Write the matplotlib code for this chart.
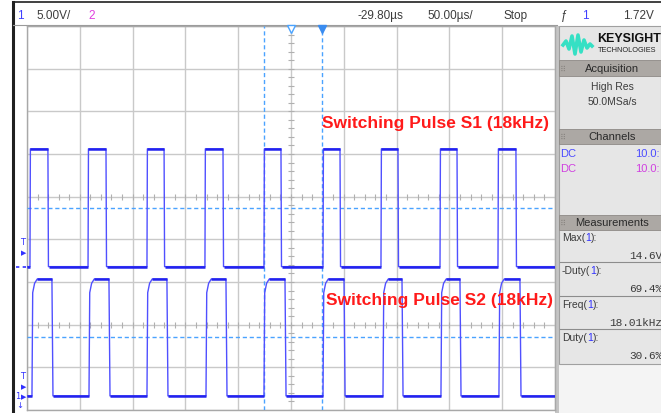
import matplotlib
matplotlib.use("Agg")
import matplotlib.pyplot as plt
from matplotlib.patches import Rectangle
from matplotlib.transforms import blended_transform_factory

# --- scope settings ---
volts_per_div = 5.0
time_per_div = 50.0          # us
delay_us = -29.80            # screen centre time
trigger_level = 1.72         # V

# channel ground offsets in divisions from the bottom of the graticule
s1_offset = 3.36
s2_offset = 0.33

# pulse edges (us, relative to trigger) and levels (V)
s1_rise = [-277.0, -222.0, -166.2, -111.3, -55.4, 0.5, 55.4, 111.3, 166.2]
s1_fall = [-260.0, -205.0, -150.0, -94.2, -39.3, 16.6, 71.5, 127.4, 183.2]
s1_low, s1_high = 0.0, 13.8

s2_rise = [-275.1, -221.1, -166.2, -110.3, -55.4, 0.5, 57.3, 112.2, 167.1]
s2_fall = [-256.2, -202.2, -147.3, -91.4, -35.5, 20.4, 75.3, 130.2, 187.0]
s2_low, s2_high = 0.0, 13.7

# measurement threshold levels (V) and cursor times (us)
s1_thresh = 6.9
s2_thresh = 6.85
cursor_times = [-55.4, 0.0]

measurements = [("Max", "14.6V"), ("-Duty", "69.4%"), ("Freq", "18.01kHz"), ("Duty", "30.6%")]

TRACE = "#5050ff"
TRACE_DARK = "#2222ee"
CURSOR = "#4aa3ff"
GRID = "#c9c9c9"
TXT = "#3c3c3c"

W, H = 661, 414
fig = plt.figure(figsize=(W / 100, H / 100), dpi=100)

# background axes in pixel units for the instrument frame / side panel
bg = fig.add_axes([0, 0, 1, 1], zorder=0)
bg.set_xlim(0, W)
bg.set_ylim(H, 0)
bg.axis("off")

bg.plot([13, W], [3, 3], color="#202020", lw=1.2)
bg.plot([13, 13], [3, H], color="#202020", lw=2.2)
bg.plot([13, 557], [25.5, 25.5], color="#9a9a9a", lw=0.8)

hdr = dict(fontsize=8.5, family="Liberation Sans", va="center")
bg.text(17, 16, "1", color="#4040ff", **hdr)
bg.text(36, 16, "5.00V/", color=TXT, **hdr)
bg.text(88, 16, "2", color="#e040e0", **hdr)
bg.text(357, 16, "-29.80µs", color=TXT, **hdr)
bg.text(427, 16, "50.00µs/", color=TXT, **hdr)
bg.text(503, 16, "Stop", color=TXT, **hdr)
bg.text(561, 16, "ƒ", color=TXT, **hdr)
bg.text(582, 16, "1", color="#4040ff", **hdr)
bg.text(623, 16, "1.72V", color=TXT, **hdr)

# side panel
bg.add_patch(Rectangle((555, 27), W - 555, H - 27, facecolor="#f4f4f4", edgecolor="none"))
bg.add_patch(Rectangle((555, 27), 4, H - 27, facecolor="#c4c4c4", edgecolor="none"))
bg.add_patch(Rectangle((559, 27), W - 559, 338, facecolor="#e6e6e6", edgecolor="#a0a0a0", lw=0.8))

# Keysight logo
wave_x = [563, 566, 569, 572, 575, 578, 581, 584, 587, 590, 592]
wave_y = [46, 42, 50, 37, 55, 36, 53, 41, 49, 45, 47]
bg.plot(wave_x, wave_y, color="#35e0c4", lw=2.6, solid_joinstyle="round")
bg.text(597, 39, "KEYSIGHT", fontsize=9, weight="bold", family="Liberation Sans",
        color="#111111", va="center")
bg.text(598, 50.5, "TECHNOLOGIES", fontsize=5.3, family="Liberation Sans",
        color="#222222", va="center")

panel_txt = dict(fontsize=7.5, family="Liberation Sans", color=TXT, va="center")
for y0, y1, label in [(61, 77, "Acquisition"), (130, 145, "Channels"), (216, 231, "Measurements")]:
    bg.add_patch(Rectangle((559, y0), W - 559, y1 - y0, facecolor="#aca8a4", edgecolor="#8e8a86", lw=0.6))
    bg.text(612, (y0 + y1) / 2, label, ha="center", fontsize=8, family="Liberation Sans",
            color="#2a2a2a", va="center")
    bg.text(563, (y0 + y1) / 2, "⠿", fontsize=6, color="#8a8682", va="center", ha="center")

bg.text(612, 87, "High Res", ha="center", **panel_txt)
bg.text(612, 102, "50.0MSa/s", ha="center", **panel_txt)

bg.text(560, 154, "DC", fontsize=8, family="Liberation Sans", color="#4b4bff", va="center")
bg.text(635, 154, "10.0:", fontsize=8, family="Liberation Sans", color="#4b4bff", va="center")
bg.text(560, 169, "DC", fontsize=8, family="Liberation Sans", color="#d040e0", va="center")
bg.text(635, 169, "10.0:", fontsize=8, family="Liberation Sans", color="#d040e0", va="center")

renderer = fig.canvas.get_renderer()


def rich_text(x, y, parts, **kw):
    for s, c in parts:
        t = bg.text(x, y, s, color=c, **kw)
        x += t.get_window_extent(renderer).width


row_h = 33.5
for i, (name, value) in enumerate(measurements):
    y_lab = 238 + i * row_h
    rich_text(562, y_lab, [(name + "(", TXT), ("1", "#3030ff"), ("):", TXT)],
              fontsize=7.5, family="Liberation Sans", va="center")
    bg.text(W + 1, y_lab + 18, value, fontsize=8, family="Liberation Mono", color=TXT,
            va="center", ha="right")
    if i < len(measurements) - 1:
        bg.plot([560, W], [y_lab + 25, y_lab + 25], color="#8c8c8c", lw=0.8)

# --- scope graticule axes ---
left, right, top, bottom = 27, 555, 27, 411
ax = fig.add_axes([left / W, (H - bottom) / H, (right - left) / W, (bottom - top) / H], zorder=2)
ax.set_facecolor("white")
x0 = delay_us - 5 * time_per_div
x1 = delay_us + 5 * time_per_div
ax.set_xlim(x0, x1)
ax.set_ylim(0, 9)
ax.set_xticks([x0 + k * time_per_div for k in range(11)])
ax.set_yticks(range(10))
ax.grid(True, color=GRID, lw=1.0)
ax.tick_params(length=0, labelbottom=False, labelleft=False)
for sp in ax.spines.values():
    sp.set_color("#a8a8a8")
    sp.set_linewidth(1.0)
ax.set_axisbelow(True)

# minor ticks along the centre line and two tick rows
yt = [k * 0.2 for k in range(46)]
ax.plot([delay_us] * len(yt), yt, ls="none", marker="_", ms=4, mew=0.8, color="#b0b0b0")
xt = [x0 + k * time_per_div / 5 for k in range(51)]
for row in (2, 5):
    ax.plot(xt, [row] * len(xt), ls="none", marker="|", ms=4, mew=0.8, color="#b0b0b0")


def to_div(v, offset):
    return offset + v / volts_per_div


def pulse_trace(rise, fall, lo, hi, rounded):
    ts, vs = [x0], [lo]
    for r, f in zip(rise, fall):
        if rounded:
            ts += [r, r + 0.7, r + 2.5, r + 5.0, f, f + 1.0]
            vs += [lo, hi - 1.6, hi - 0.5, hi, hi, lo]
        else:
            ts += [r, r + 0.4, f, f + 0.5]
            vs += [lo, hi, hi, lo]
    ts.append(x1)
    vs.append(lo)
    return ts, vs


for rise, fall, lo, hi, off, rounded in [
    (s1_rise, s1_fall, s1_low, s1_high, s1_offset, False),
    (s2_rise, s2_fall, s2_low, s2_high, s2_offset, True),
]:
    ts, vs = pulse_trace(rise, fall, lo, hi, rounded)
    ax.plot(ts, [to_div(v, off) for v in vs], color=TRACE, lw=1.0, zorder=4)
    start = 5.0 if rounded else 0.4
    hi_starts = [r + start for r in rise]
    ax.hlines([to_div(hi, off)] * len(rise), hi_starts, fall, color=TRACE_DARK, lw=1.8, zorder=5)
    lows_a = [x0] + [f + 1.0 for f in fall]
    lows_b = list(rise) + [x1]
    ax.hlines([to_div(lo, off)] * len(lows_a), lows_a, lows_b, color=TRACE_DARK, lw=1.8, zorder=5)

# thresholds and cursors
ax.axhline(to_div(s1_thresh, s1_offset), color=CURSOR, lw=1.0, ls=(0, (3, 2)), zorder=3)
ax.axhline(to_div(s2_thresh, s2_offset), color=CURSOR, lw=1.0, ls=(0, (3, 2)), zorder=3)
for t in cursor_times:
    ax.axvline(t, color=CURSOR, lw=1.0, ls=(0, (3, 2)), zorder=3)

xa = blended_transform_factory(ax.transData, ax.transAxes)
ax.plot([delay_us], [0.992], transform=xa, marker="v", ms=6, mfc="white", mec=CURSOR,
        mew=1.0, clip_on=False, zorder=6)
ax.plot([0.0], [0.992], transform=xa, marker="v", ms=6, color="#3a8cf0", clip_on=False, zorder=6)

# left side channel / trigger markers
ya = blended_transform_factory(ax.transAxes, ax.transData)
mk = dict(transform=ya, clip_on=False, color="#3030ff", va="center", ha="center")
for lvl, off in [(trigger_level, s1_offset), (1.2, s2_offset)]:
    y = to_div(lvl, off)
    ax.text(-0.008, y + 0.25, "T", fontsize=6, **mk)
    ax.text(-0.006, y, "▶", fontsize=5, **mk)
ax.plot([-0.02, 0.0], [s1_offset, s1_offset], transform=ya, clip_on=False,
        color="#3030ff", lw=1.2, ls=(0, (2, 2)))
ax.text(-0.017, s2_offset, "1", fontsize=6, **mk)
ax.text(-0.006, s2_offset, "▶", fontsize=5, **mk)
ax.text(-0.014, s2_offset - 0.2, "↓", fontsize=6, **mk)

# annotations
lbl = dict(fontsize=12.5, weight="bold", family="Liberation Sans", color="#ff1a1a",
           va="center", ha="left", zorder=7)
ax.text(0.0, 6.73, "Switching Pulse S1 (18kHz)", **lbl)
ax.text(3.5, 2.60, "Switching Pulse S2 (18kHz)", **lbl)

fig.savefig("out.png", dpi=100)
